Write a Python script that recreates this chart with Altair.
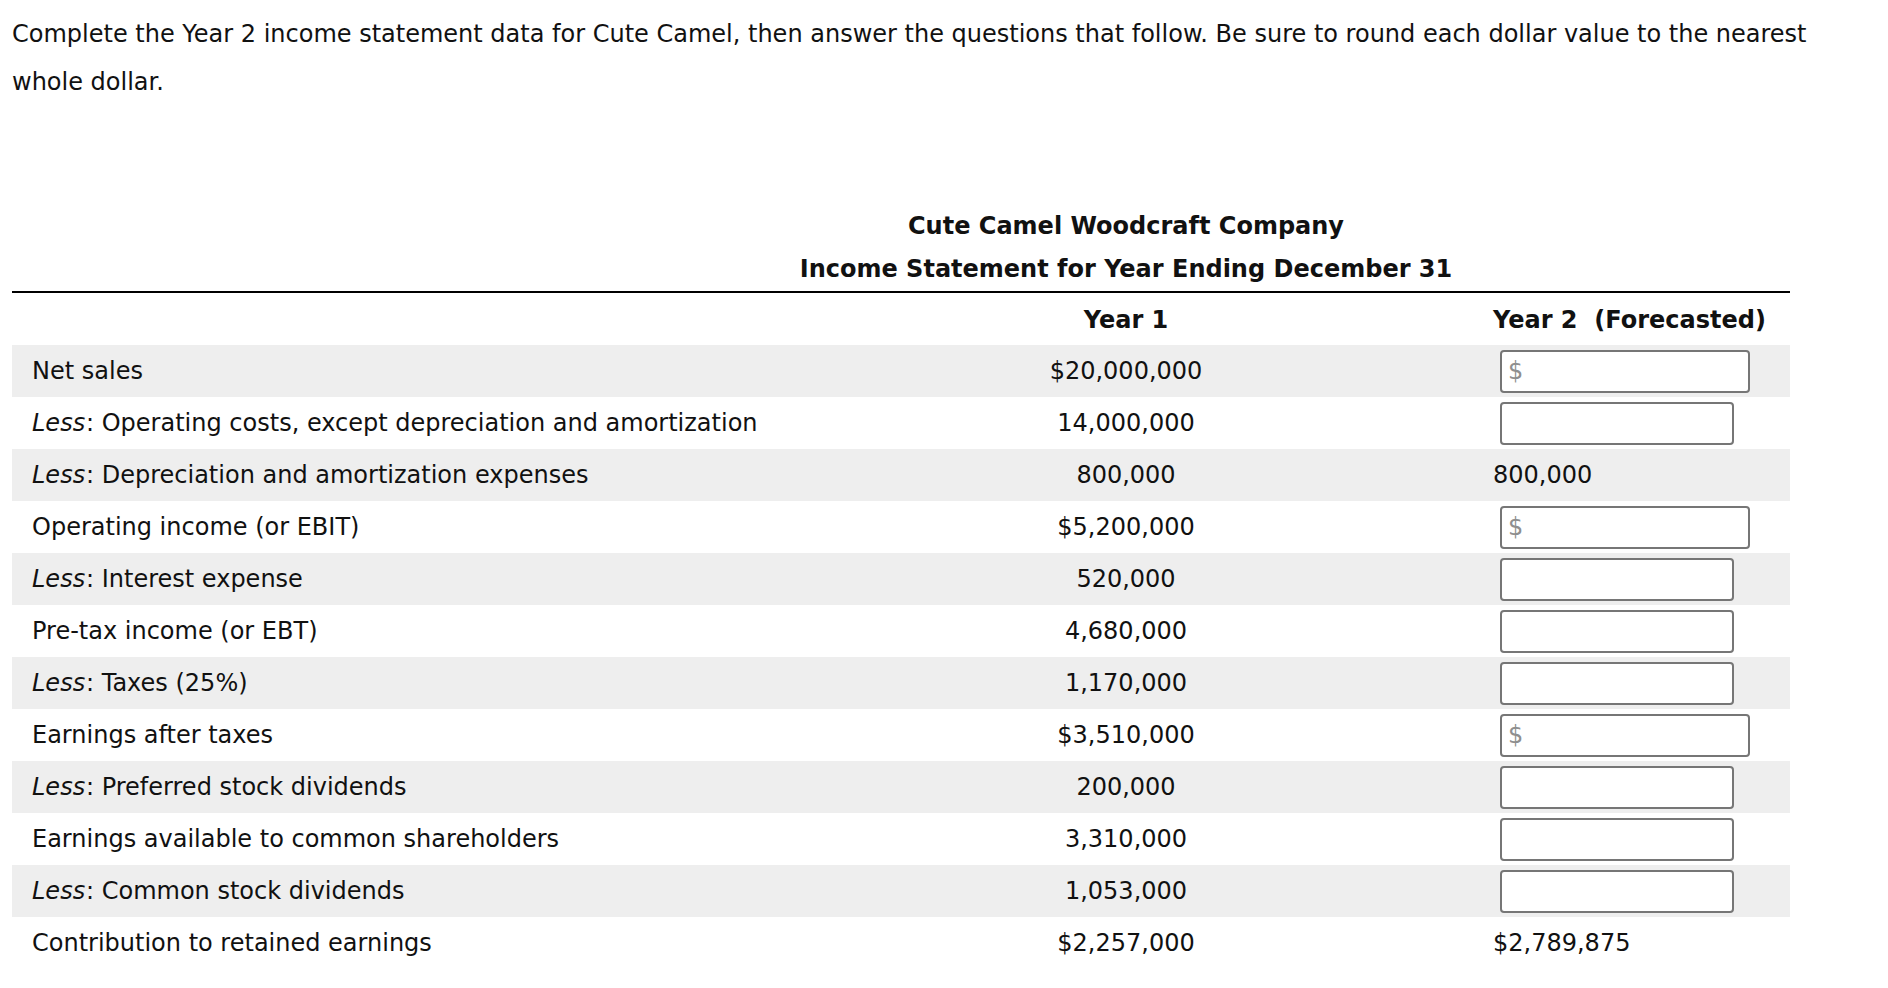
import altair as alt
import pandas as pd

# ---------------- data ----------------
intro_lines = [
    "Complete the Year 2 income statement data for Cute Camel, then answer the questions that follow. Be sure to round each dollar value to the nearest",
    "whole dollar.",
]
title_lines = [
    "Cute Camel Woodcraft Company",
    "Income Statement for Year Ending December 31",
]
col_headers = ["Year 1", "Year 2\u00a0\u00a0(Forecasted)"]

row_labels = [
    "Net sales",
    "Less: Operating costs, except depreciation and amortization",
    "Less: Depreciation and amortization expenses",
    "Operating income (or EBIT)",
    "Less: Interest expense",
    "Pre-tax income (or EBT)",
    "Less: Taxes (25%)",
    "Earnings after taxes",
    "Less: Preferred stock dividends",
    "Earnings available to common shareholders",
    "Less: Common stock dividends",
    "Contribution to retained earnings",
]
year1_values = [
    "$20,000,000", "14,000,000", "800,000", "$5,200,000", "520,000", "4,680,000",
    "1,170,000", "$3,510,000", "200,000", "3,310,000", "1,053,000", "$2,257,000",
]
# Year 2 cells: "$box" = input box with $ sign, "box" = plain input box, other = given text
year2_cells = [
    "$box", "box", "800,000", "$box", "box", "box",
    "box", "$box", "box", "box", "box", "$2,789,875",
]

# ---------------- layout (page pixels) ----------------
W, H = 1872, 972
ROW_TOP0, ROW_H = 345, 52
TABLE_L, TABLE_R = 12, 1790
LABEL_X = 32
LESS_W = 54
Y1_X = 1126
Y2_X = 1493
BOX_L, BOX_R_WIDE, BOX_R = 1501, 1749, 1733
FONT = "DejaVu Sans"
FS = 24
TXT = "#111111"

n = len(row_labels)
rows = pd.DataFrame({
    "i": range(n),
    "label": row_labels,
    "y1": year1_values,
    "y2": year2_cells,
})
rows["top"] = ROW_TOP0 + rows["i"] * ROW_H
rows["bot"] = rows["top"] + ROW_H
rows["mid"] = rows["top"] + ROW_H / 2 + 1
rows["prefix"] = rows["label"].apply(lambda s: "Less" if s.startswith("Less:") else "")
rows["rest"] = rows["label"].apply(lambda s: s[4:] if s.startswith("Less:") else s)
rows["label_x"] = LABEL_X
rows["rest_x"] = rows["prefix"].apply(lambda p: LABEL_X + LESS_W if p else LABEL_X)
rows["x_left"] = TABLE_L
rows["x_right"] = TABLE_R
rows["box_l"] = BOX_L
rows["box_r"] = rows["y2"].apply(lambda c: BOX_R_WIDE if c == "$box" else BOX_R)
rows["box_t"] = rows["top"] + 6
rows["box_b"] = rows["top"] + 47
rows["y1_x"] = Y1_X
rows["y2_x"] = Y2_X
rows["dollar_x"] = BOX_L + 7

xs = alt.Scale(domain=[8, 8 + W], nice=False, zero=False)
ys = alt.Scale(domain=[8, 8 + H], nice=False, zero=False, reverse=True)


def X(f):
    return alt.X(f, type="quantitative", scale=xs, axis=None)


def Y(f):
    return alt.Y(f, type="quantitative", scale=ys, axis=None)


base = alt.Chart(rows)

bands = base.transform_filter("datum.i % 2 == 0").mark_rect(fill="#eeeeee").encode(
    x=X("x_left"), x2="x_right", y=Y("top"), y2="bot"
)

prefix_txt = base.transform_filter("datum.prefix != ''").mark_text(
    font=FONT, fontSize=FS, fontStyle="italic", align="left", baseline="middle", color=TXT
).encode(x=X("label_x"), y=Y("mid"), text="prefix:N")

rest_txt = base.mark_text(
    font=FONT, fontSize=FS, align="left", baseline="middle", color=TXT
).encode(x=X("rest_x"), y=Y("mid"), text="rest:N")

y1_txt = base.mark_text(
    font=FONT, fontSize=FS, align="center", baseline="middle", color=TXT
).encode(x=X("y1_x"), y=Y("mid"), text="y1:N")

boxes = base.transform_filter("datum.y2 == 'box' || datum.y2 == '$box'").mark_rect(
    fill="white", stroke="#767676", strokeWidth=2, cornerRadius=3
).encode(x=X("box_l"), x2="box_r", y=Y("box_t"), y2="box_b")

dollars = base.transform_filter("datum.y2 == '$box'").mark_text(
    font=FONT, fontSize=FS, align="left", baseline="middle", color="#8f8f8f", text="$"
).encode(x=X("dollar_x"), y=Y("mid"))

y2_txt = base.transform_filter("datum.y2 != 'box' && datum.y2 != '$box'").mark_text(
    font=FONT, fontSize=FS, align="left", baseline="middle", color=TXT
).encode(x=X("y2_x"), y=Y("mid"), text="y2:N")

# header texts
intro_df = pd.DataFrame({"t": intro_lines, "x": [12, 12], "y": [35, 83]})
intro = alt.Chart(intro_df).mark_text(
    font=FONT, fontSize=FS, align="left", baseline="middle", color=TXT
).encode(x=X("x"), y=Y("y"), text="t:N")

head_df = pd.DataFrame({
    "t": title_lines + col_headers,
    "x": [1126, 1126, 1126, 1493],
    "y": [227, 270, 321, 321],
    "a": ["center", "center", "center", "left"],
})
heads_c = alt.Chart(head_df).transform_filter("datum.a == 'center'").mark_text(
    font=FONT, fontSize=FS, fontWeight="bold", align="center", baseline="middle", color=TXT
).encode(x=X("x"), y=Y("y"), text="t:N")
heads_l = alt.Chart(head_df).transform_filter("datum.a == 'left'").mark_text(
    font=FONT, fontSize=FS, fontWeight="bold", align="left", baseline="middle", color=TXT
).encode(x=X("x"), y=Y("y"), text="t:N")

rule_df = pd.DataFrame({"x": [TABLE_L], "x2": [TABLE_R], "y": [292]})
rule = alt.Chart(rule_df).mark_rule(color="black", strokeWidth=2).encode(
    x=X("x"), x2="x2", y=Y("y")
)

chart = alt.layer(
    bands, rule, intro, heads_c, heads_l, prefix_txt, rest_txt, y1_txt, boxes, dollars, y2_txt
).properties(
    width=W, height=H, padding=0, autosize=alt.AutoSizeParams(type="none")
).configure_view(stroke=None)

chart.save("out.html", embed_options={"renderer": "svg", "actions": False})
